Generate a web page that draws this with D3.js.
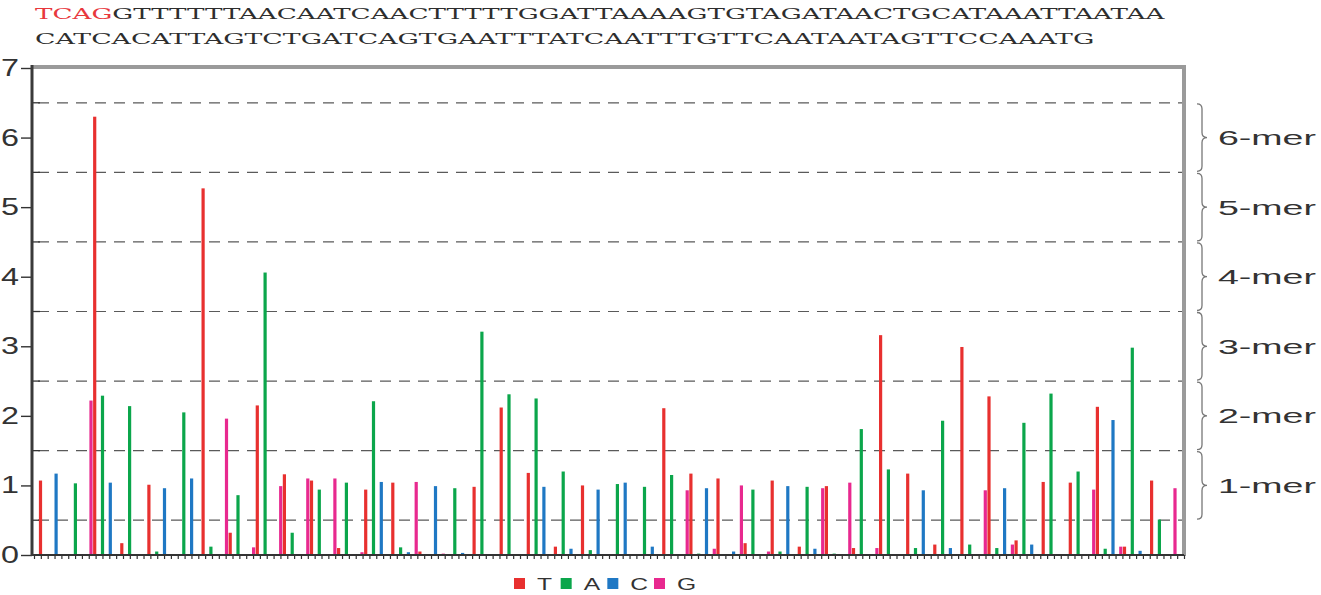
<!DOCTYPE html>
<html>
<head>
<meta charset="utf-8">
<script src="https://cdn.jsdelivr.net/npm/d3@7"></script>
<style>
  body { margin: 0; background: #fff; }
</style>
</head>
<body>
<div id="chart"></div>
<script>
var width = 1321, height = 595;

// flow order of the sequencer, one value per cycle for each nucleotide
var flowOrder = ["T", "A", "C", "G"];
var tSignal = [1.07, 0, 6.3, 0.17, 1.01, 0, 5.27, 0.32, 2.15, 1.16, 1.07, 0.1, 0.94, 1.04, 0.05, 0,
               0.98, 2.12, 1.18, 0.12, 1.0, 0, 0, 2.11, 1.17, 1.1, 0.17, 1.07, 0.12, 0.99, 0.1, 3.16,
               1.17, 0.15, 2.99, 2.28, 0.21, 1.05, 1.04, 2.13, 0.12, 1.07];
var aSignal = [0, 1.03, 2.29, 2.14, 0.05, 2.05, 0.12, 0.86, 4.06, 0.32, 0.94, 1.04, 2.21, 0.11, 0, 0.96,
               3.21, 2.31, 2.25, 1.2, 0.07, 1.02, 0.98, 1.15, 0.02, 0, 0.94, 0.05, 0.98, 0.02, 1.81, 1.23,
               0.1, 1.93, 0.15, 0.1, 1.9, 2.32, 1.2, 0.09, 2.98, 0.51];
var cSignal = [1.17, 0, 1.04, 0, 0.96, 1.1, 0, 0, 0, 0, 0, 0, 1.05, 0.04, 0.99, 0.03,
               0, 0, 0.98, 0.09, 0.94, 1.04, 0.12, 0, 0.96, 0.05, 0, 0.99, 0.09, 0, 0, 0,
               0.93, 0.1, 0, 0.96, 0.15, 0, 0, 1.94, 0.06, 0];
var gSignal = [0, 2.22, 0, 0, 0, 0, 1.96, 0.11, 0.99, 1.1, 1.1, 0.04, 0, 1.05, 0.02, 0,
               0, 0, 0, 0, 0, 0, 0, 0.93, 0.09, 1.0, 0.05, 0, 0.96, 1.04, 0.1, 0,
               0, 0, 0.93, 0.15, 0, 0, 0.94, 0.12, 0, 0.96];

var yTicks = [0, 1, 2, 3, 4, 5, 6, 7];
var merLevels = [1, 2, 3, 4, 5, 6];
var keySeq = "TCAG";
var readLine1 = "GTTTTTTAACAATCAACTTTTTGGATTAAAAGTGTAGATAACTGCATAAATTAATAA";
var readLine2 = "CATCACATTAGTCTGATCAGTGAATTTATCAATTTGTTCAATAATAGTTCCAAATG";

var colors = {T: "#e8302f", A: "#0ba64b", C: "#1f78c4", G: "#e8298f"};
var signals = {T: tSignal, A: aSignal, C: cSignal, G: gSignal};

var flows = [];
d3.range(tSignal.length).forEach(function(c) {
    flowOrder.forEach(function(b) {
        flows.push({cycle: c, base: b, value: signals[b][c]});
    });
});

var plotLeft = 32, plotRight = 1184, plotTop = 67, plotBottom = 555;

var y = d3.scaleLinear().domain([0, 7]).range([plotBottom, 68]);
var cycleX = d3.scaleLinear().domain([0, tSignal.length - 1]).range([40.5, 1151.6]);
var baseX = d3.scalePoint().domain(flowOrder).range([0, 23.4]);
var flowX = d3.scaleLinear().domain([0, flows.length]).range([plotLeft + 2, plotRight]);

var svg = d3.select('#chart').append('svg')
    .attr('width', width)
    .attr('height', height)
    .style('font-family', '"Liberation Sans", Arial, sans-serif');

// squeeze / stretch a text node horizontally to a given width
function fitWidth(sel, x, yy, w, anchor) {
    var natural = sel.node().getComputedTextLength();
    var sx = w / natural;
    var x0 = anchor === 'end' ? x - w : x;
    sel.attr('transform', 'translate(' + x0 + ',' + yy + ') scale(' + sx + ',1)');
}

// sequence text on top
var seq1 = svg.append('text')
    .style('font-family', '"DejaVu Serif", serif')
    .style('font-size', '15px')
    .attr('fill', '#2e2e2e');
seq1.append('tspan').attr('fill', '#e8383d').text(keySeq);
seq1.append('tspan').text(readLine1);
fitWidth(seq1, 35, 19, 1130);

var seq2 = svg.append('text')
    .style('font-family', '"DejaVu Serif", serif')
    .style('font-size', '15px')
    .attr('fill', '#2e2e2e')
    .text(readLine2);
fitWidth(seq2, 35, 44, 1060);

// dashed boundaries between homopolymer levels
var halfLevels = merLevels.map(function(d) { return d - 0.5; }).concat([6.5]);
svg.append('g').selectAll('line')
    .data(halfLevels)
    .enter().append('line')
    .attr('x1', plotLeft + 6).attr('x2', plotRight)
    .attr('y1', function(d) { return y(d); })
    .attr('y2', function(d) { return y(d); })
    .attr('stroke', '#5a5a5a')
    .attr('stroke-width', 1.2)
    .attr('stroke-dasharray', '11,8');

// short inner ticks at the half values
svg.append('g').selectAll('line')
    .data(halfLevels)
    .enter().append('line')
    .attr('x1', plotLeft).attr('x2', plotLeft + 8)
    .attr('y1', function(d) { return y(d); })
    .attr('y2', function(d) { return y(d); })
    .attr('stroke', '#333')
    .attr('stroke-width', 1.3);

// frame
svg.append('line')
    .attr('x1', plotLeft).attr('x2', plotRight + 2)
    .attr('y1', plotTop).attr('y2', plotTop)
    .attr('stroke', '#9a9a9a').attr('stroke-width', 4);
svg.append('line')
    .attr('x1', plotRight).attr('x2', plotRight)
    .attr('y1', plotTop).attr('y2', plotBottom + 1)
    .attr('stroke', '#9a9a9a').attr('stroke-width', 4);

// bars
svg.append('g').selectAll('rect')
    .data(flows.filter(function(d) { return d.value > 0; }))
    .enter().append('rect')
    .attr('x', function(d) { return cycleX(d.cycle) + baseX(d.base) - 1.6; })
    .attr('width', 3.2)
    .attr('y', function(d) { return y(d.value); })
    .attr('height', function(d) { return y(0) - y(d.value); })
    .attr('fill', function(d) { return colors[d.base]; });

// x axis: one small tick per flow
var xAxis = d3.axisBottom(flowX)
    .tickValues(d3.range(0, flows.length + 1))
    .tickSize(4)
    .tickFormat('');
var gx = svg.append('g')
    .attr('transform', 'translate(0,' + plotBottom + ')')
    .call(xAxis);
gx.select('.domain').remove();
gx.selectAll('.tick line').attr('stroke', '#333').attr('stroke-width', 1.2);
svg.append('line')
    .attr('x1', plotLeft).attr('x2', plotRight)
    .attr('y1', plotBottom).attr('y2', plotBottom)
    .attr('stroke', '#333').attr('stroke-width', 2.2);

// y axis
var yAxis = d3.axisLeft(y).tickValues(yTicks).tickSize(11).tickFormat('');
var gy = svg.append('g')
    .attr('transform', 'translate(' + plotLeft + ',0)')
    .call(yAxis);
gy.select('.domain').remove();
gy.selectAll('.tick line').attr('stroke', '#333').attr('stroke-width', 1.4);
svg.append('line')
    .attr('x1', plotLeft).attr('x2', plotLeft)
    .attr('y1', plotTop - 2).attr('y2', plotBottom + 1)
    .attr('stroke', '#3a3a3a').attr('stroke-width', 3);

yTicks.forEach(function(t) {
    var lab = svg.append('text')
        .style('font-size', '23px')
        .attr('fill', '#333')
        .text(t);
    fitWidth(lab, 19, y(t) + 8, 18, 'end');
});

// braces and n-mer labels on the right
function bracePath(y0, y1) {
    var x0 = 1197, xv = 1202, xt = 1207, m = (y0 + y1) / 2;
    return 'M' + x0 + ',' + y0 +
        ' Q' + xv + ',' + y0 + ' ' + xv + ',' + (y0 + 5) +
        ' L' + xv + ',' + (m - 5) +
        ' Q' + xv + ',' + m + ' ' + xt + ',' + m +
        ' Q' + xv + ',' + m + ' ' + xv + ',' + (m + 5) +
        ' L' + xv + ',' + (y1 - 5) +
        ' Q' + xv + ',' + y1 + ' ' + x0 + ',' + y1;
}

svg.append('g').selectAll('path')
    .data(merLevels)
    .enter().append('path')
    .attr('d', function(d) { return bracePath(y(d + 0.5) + 1, y(d - 0.5) - 1); })
    .attr('fill', 'none')
    .attr('stroke', '#777')
    .attr('stroke-width', 1.3);

merLevels.forEach(function(d) {
    var lab = svg.append('text')
        .style('font-size', '21px')
        .attr('fill', '#333')
        .text(d + '-mer');
    fitWidth(lab, 1218, y(d) + 7.5, 98);
});

// legend
var legendX = d3.scalePoint().domain(flowOrder).range([514, 654]);
flowOrder.forEach(function(b) {
    svg.append('rect')
        .attr('x', legendX(b)).attr('y', 578)
        .attr('width', 11).attr('height', 11)
        .attr('fill', colors[b]);
    var lab = svg.append('text')
        .style('font-size', '17px')
        .attr('fill', '#333')
        .text(b);
    var w = lab.node().getComputedTextLength() * 1.45;
    fitWidth(lab, legendX(b) + 23, 590, w);
});
</script>
</body>
</html>
